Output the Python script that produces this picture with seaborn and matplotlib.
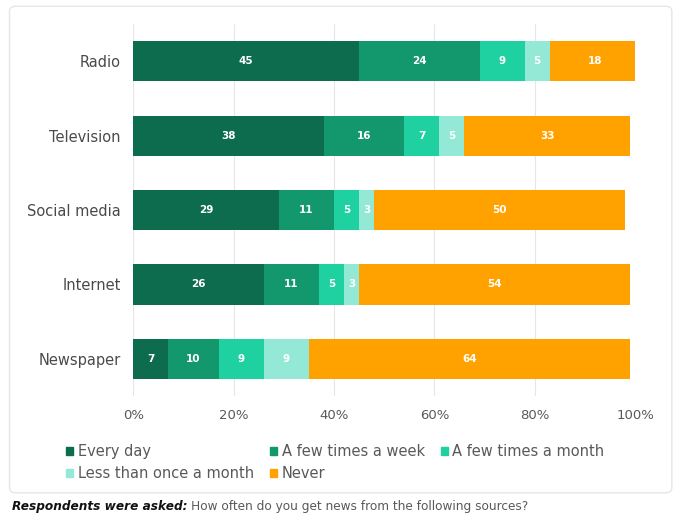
import numpy as np
import pandas as pd
import seaborn as sns
import matplotlib.pyplot as plt
from matplotlib.patches import FancyBboxPatch, Patch

sources = ["Radio", "Television", "Social media", "Internet", "Newspaper"]
categories = ["Every day", "A few times a week", "A few times a month",
              "Less than once a month", "Never"]
every_day = [45, 38, 29, 26, 7]
few_week = [24, 16, 11, 11, 10]
few_month = [9, 7, 5, 5, 9]
less_month = [5, 5, 3, 3, 9]
never = [18, 33, 50, 54, 64]
colors = ["#0d6b4e", "#13976d", "#1fd0a0", "#93e9d6", "#ffa200"]

df = pd.DataFrame({"source": sources, "Every day": every_day,
                   "A few times a week": few_week, "A few times a month": few_month,
                   "Less than once a month": less_month, "Never": never})

sns.set_theme(style="white")
plt.rcParams['font.family'] = ['DejaVu Sans']

fig = plt.figure(figsize=(6.8, 5.15), dpi=100)
ax = fig.add_axes([0.196, 0.231, 0.738, 0.722])

cum = df[categories].cumsum(axis=1)
# draw largest cumulative first so earlier segments sit on top
for cat, col in reversed(list(zip(categories, colors))):
    sns.barplot(x=cum[cat], y=df["source"], color=col, width=0.54,
                orient="h", ax=ax, saturation=1, zorder=3, linewidth=0)

# segment labels
for i in range(len(sources)):
    start = 0
    for cat in categories:
        v = df[cat][i]
        ax.text(start + v / 2, i, str(v), ha="center", va="center",
                color="white", fontsize=7.5, fontweight="bold", zorder=5)
        start += v

ax.set_xlim(0, 100)
ax.set_xticks([0, 20, 40, 60, 80, 100])
ax.set_xticklabels(["0%", "20%", "40%", "60%", "80%", "100%"], color="#595959", fontsize=9.5)
ax.set_ylabel("")
ax.set_xlabel("")
ax.tick_params(axis="y", labelsize=10.5, labelcolor="#4a4a4a", pad=9, length=0)
ax.tick_params(axis="x", pad=9, length=0)
ax.grid(axis="x", color="#e6e6e6", linewidth=0.8, zorder=0)
for s in ax.spines.values():
    s.set_visible(False)

handles = [Patch(color=c, label=l) for c, l in zip(colors, categories)]
order = [0, 3, 1, 4, 2]
fig.legend([handles[k] for k in order], [categories[k] for k in order],
           ncol=3, loc="upper left", bbox_to_anchor=(0.078, 0.163), frameon=False,
           fontsize=10.5, handlelength=0.5, handleheight=0.5, handletextpad=0.3,
           columnspacing=1.1, labelspacing=0.5, labelcolor="#595959")

fig.patches.append(FancyBboxPatch((0.014, 0.043), 0.974, 0.945,
                                  boxstyle="round,pad=0,rounding_size=0.01",
                                  transform=fig.transFigure, facecolor="none",
                                  edgecolor="#e6e6e6", linewidth=1))

t1 = fig.text(0.018, 0.01, "Respondents were asked:", fontsize=8.7,
              fontweight="bold", fontstyle="italic", color="#111111")
fig.canvas.draw()
bb = t1.get_window_extent().transformed(fig.transFigure.inverted())
fig.text(bb.x1 + 0.005, 0.01, "How often do you get news from the following sources?",
         fontsize=8.7, color="#595959")

fig.savefig("out.png", dpi=100)
